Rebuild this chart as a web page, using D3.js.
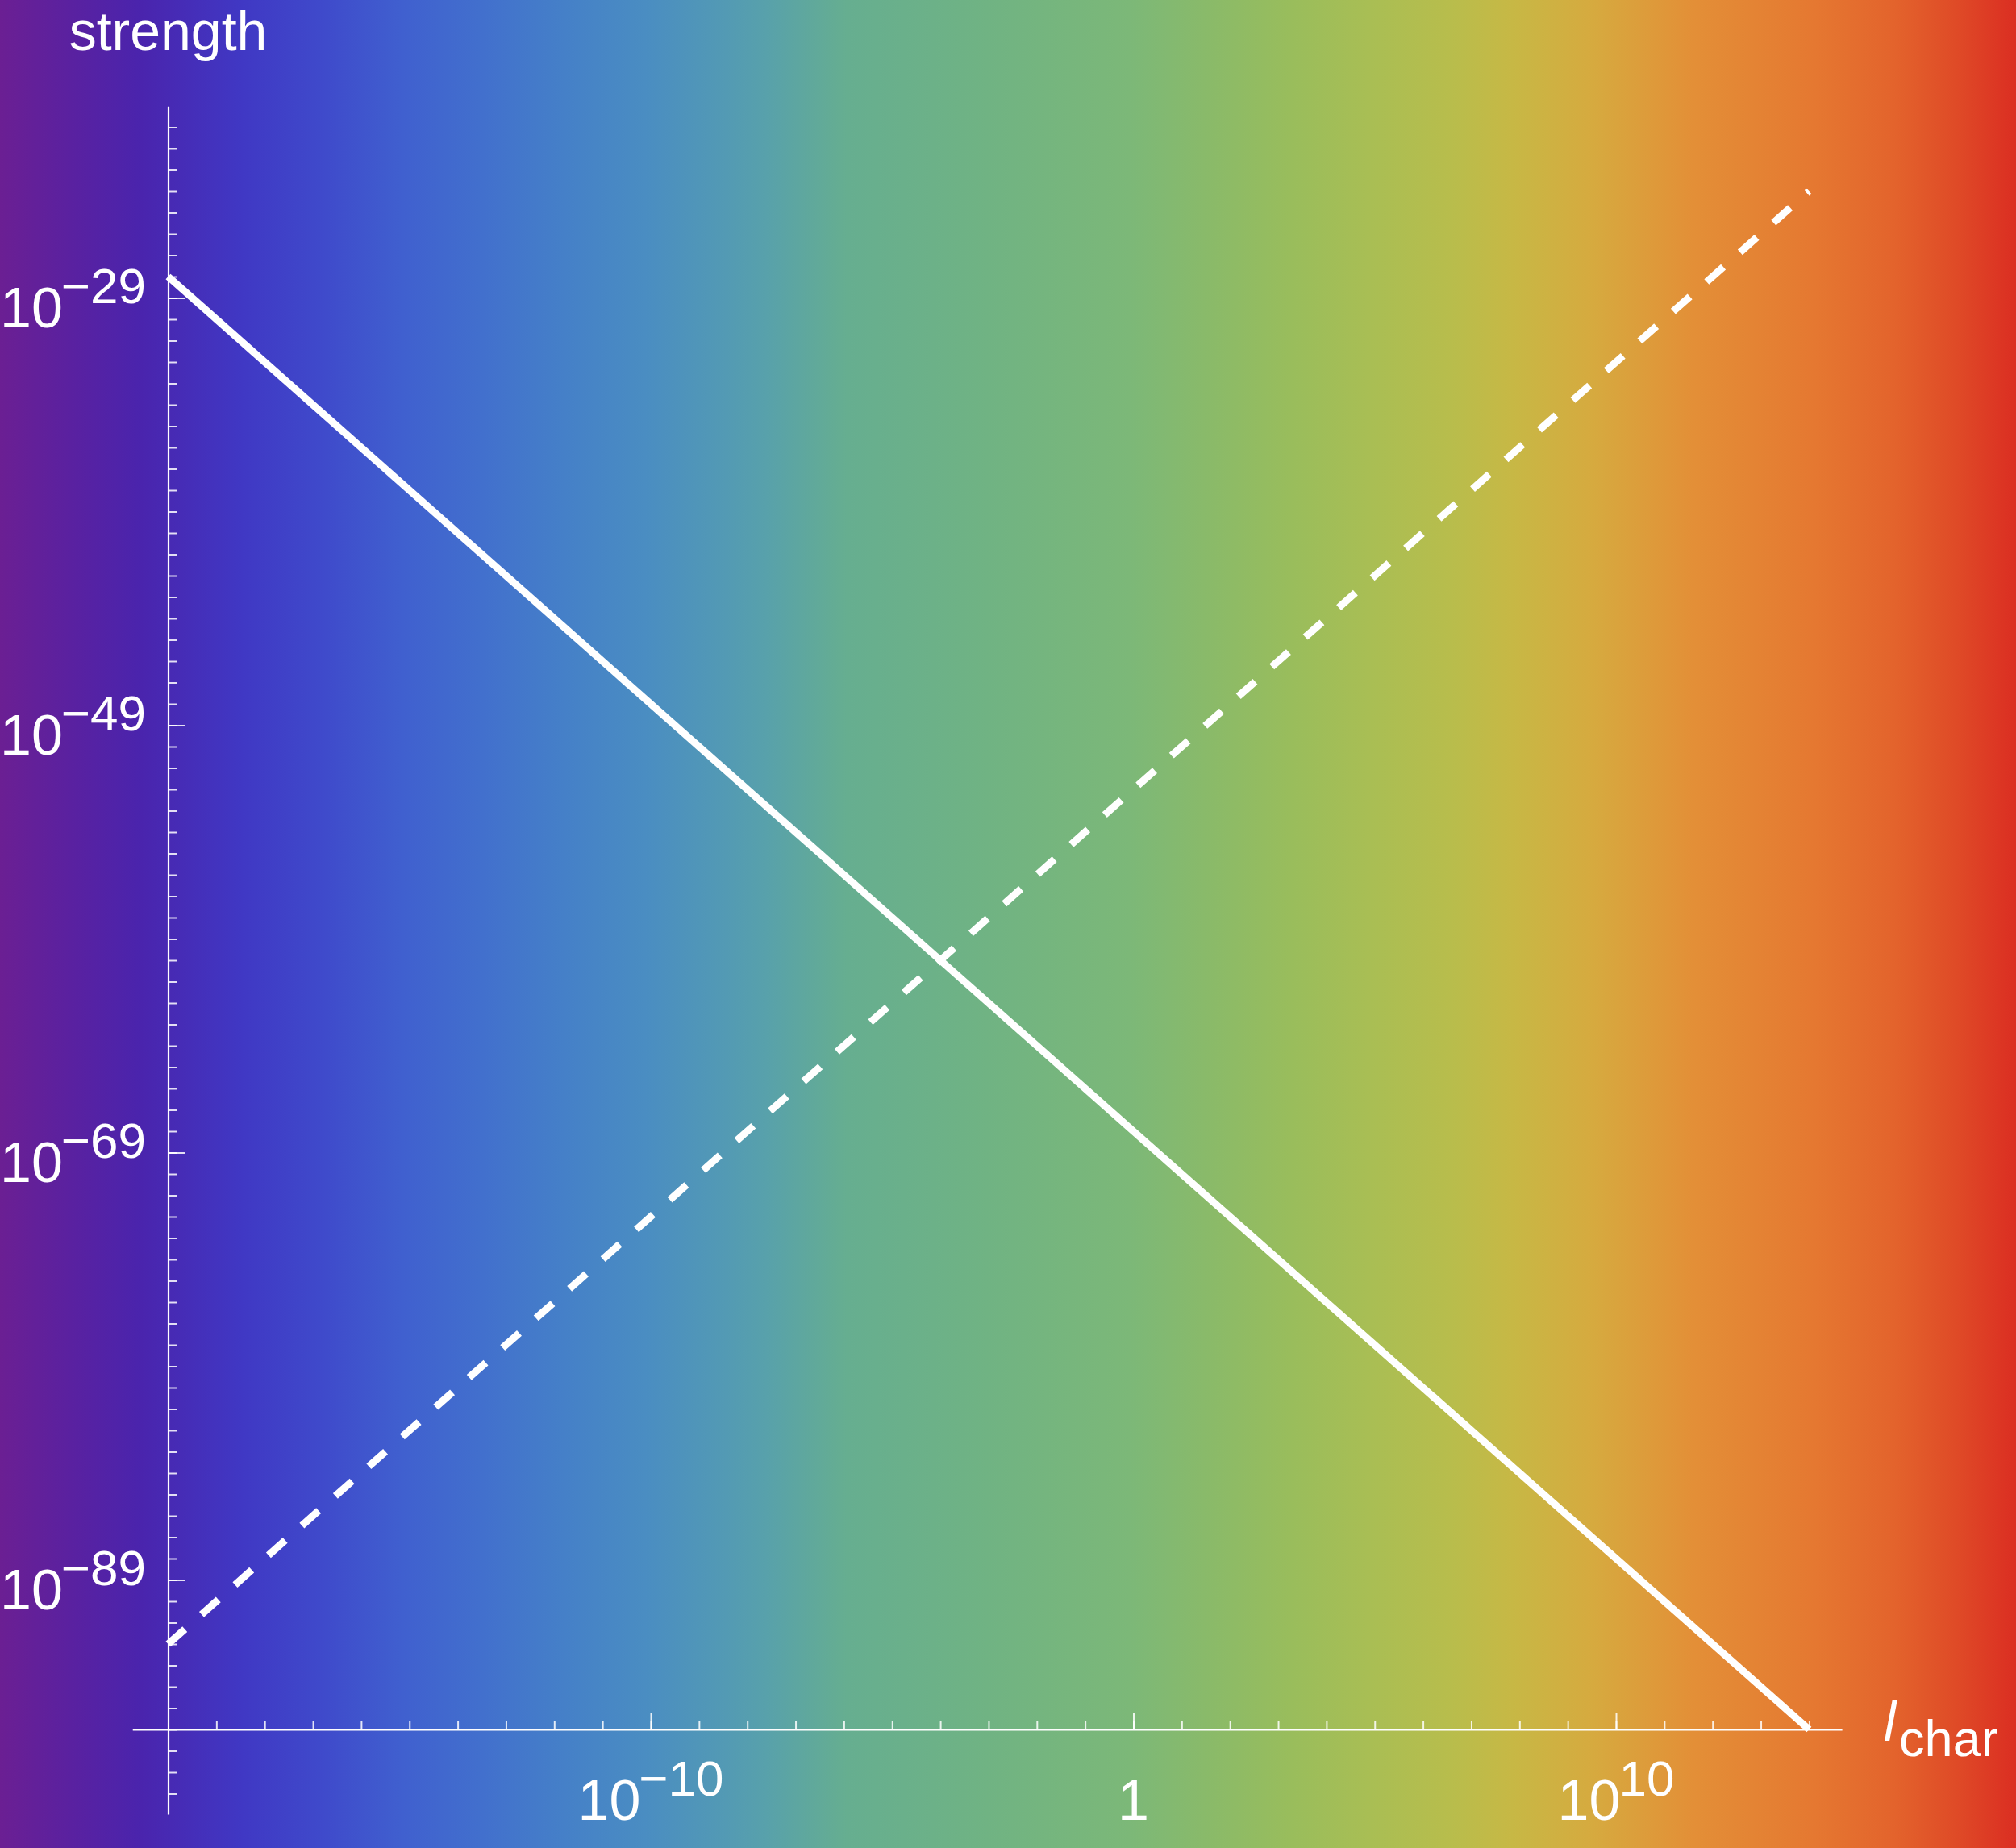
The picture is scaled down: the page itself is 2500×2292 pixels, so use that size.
<!DOCTYPE html>
<html>
<head>
<meta charset="utf-8">
<script src="https://cdn.jsdelivr.net/npm/d3@7"></script>
<style>
  html, body { margin: 0; padding: 0; background: #fff; }
  svg { display: block; }
  text { font-family: "Liberation Sans", Arial, sans-serif; fill: #fff; }
</style>
</head>
<body>
<script>
// ---------- data ----------
const lValues      = [1e-20, 1e-4, 1e14];       // l_char sample points
const solidValues  = [1e-28, 1e-60, 1e-96];     // solid line strength
const dashedValues = [1e-92, 1e-60, 1e-24];     // dashed line strength
const xMajorTicks  = [1e-10, 1, 1e10];
const xMajorLabels = [["10", "\u221210"], ["1", null], ["10", "10"]];
const yMajorTicks  = [1e-29, 1e-49, 1e-69, 1e-89];
const yMajorLabels = [["10", "\u221229"], ["10", "\u221249"], ["10", "\u221269"], ["10", "\u221289"]];
const xMinorExps   = d3.range(-19, 15);          // every decade
const yMinorExps   = d3.range(-99, -20);         // every decade
const rainbowStops = [
  [0.000, "#6b1f93"], [0.035, "#5a21a0"], [0.070, "#4a24ad"], [0.120, "#4038c4"],
  [0.160, "#3f4acb"], [0.200, "#4060cf"], [0.240, "#4270cd"], [0.280, "#4580c8"],
  [0.320, "#4a8dc2"], [0.360, "#539ab4"], [0.380, "#58a1ab"], [0.420, "#66ae90"],
  [0.490, "#70b383"], [0.560, "#7cb878"], [0.600, "#8aba69"], [0.640, "#99bd5c"],
  [0.680, "#a9be54"], [0.720, "#b8bd4c"], [0.750, "#c7b845"], [0.790, "#d6aa3f"],
  [0.840, "#e38f37"], [0.900, "#e57831"], [0.940, "#e3632c"], [0.970, "#df4b27"],
  [1.000, "#db2e22"]
];

// ---------- layout ----------
const W = 2500, H = 2292;
const svg = d3.select("body").append("svg").attr("width", W).attr("height", H);

const defs = svg.append("defs");
const grad = defs.append("linearGradient").attr("id", "bg")
  .attr("gradientUnits", "userSpaceOnUse").attr("x1", 0).attr("x2", W).attr("y1", 0).attr("y2", 0);
grad.selectAll("stop").data(rainbowStops).join("stop")
  .attr("offset", d => d[0]).attr("stop-color", d => d[1]);
svg.append("rect").attr("width", W).attr("height", H).attr("fill", "url(#bg)");

const x = d3.scaleLog().domain([1e-20, 1e14]).range([208.5, 2243.4]);
const y = d3.scaleLog().domain([1e-96, 1e-24]).range([2145, 237]);

const xAxisExtent = [Math.pow(10, -20.74), Math.pow(10, 14.68)];
const yAxisExtent = [Math.pow(10, -99.96), Math.pow(10, -20.05)];
const xAxisScale = d3.scaleLog().domain(xAxisExtent).range(xAxisExtent.map(x));
const yAxisScale = d3.scaleLog().domain(yAxisExtent).range(yAxisExtent.map(y));

const originX = 1e-20, originY = 1e-96;

// ---------- axes ----------
const tickStyle = g => g.selectAll(".tick line").attr("stroke", "#fff").attr("stroke-width", 2).attr("stroke-opacity", 0.85);

// x minor
svg.append("g").attr("transform", `translate(0,${y(originY)})`)
  .call(d3.axisBottom(xAxisScale).tickValues(xMinorExps.map(e => Math.pow(10, e))).tickSize(-10.5).tickSizeOuter(0).tickFormat(""))
  .call(g => g.select(".domain").remove()).call(tickStyle);
// x major
svg.append("g").attr("transform", `translate(0,${y(originY)})`)
  .call(d3.axisBottom(xAxisScale).tickValues(xMajorTicks).tickSize(-21).tickSizeOuter(0).tickFormat(""))
  .call(g => g.select(".domain").attr("stroke", "#fff").attr("stroke-width", 2.2)).call(tickStyle);

// y minor
svg.append("g").attr("transform", `translate(${x(originX)},0)`)
  .call(d3.axisLeft(yAxisScale).tickValues(yMinorExps.map(e => Math.pow(10, e))).tickSize(-10.5).tickSizeOuter(0).tickFormat(""))
  .call(g => g.select(".domain").remove()).call(tickStyle);
// y major
svg.append("g").attr("transform", `translate(${x(originX)},0)`)
  .call(d3.axisLeft(yAxisScale).tickValues(yMajorTicks).tickSize(-21).tickSizeOuter(0).tickFormat(""))
  .call(g => g.select(".domain").attr("stroke", "#fff").attr("stroke-width", 2.2)).call(tickStyle);

// tick labels
function powLabel(sel, lab) {
  sel.append("tspan").text(lab[0]);
  if (lab[1]) sel.append("tspan").attr("dy", -30).attr("dx", -2).attr("font-size", 62).text(lab[1]);
}
xMajorTicks.forEach((v, i) => {
  const t = svg.append("text").attr("x", x(v)).attr("y", y(originY) + 112)
    .attr("text-anchor", "middle").attr("font-size", 70);
  powLabel(t, xMajorLabels[i]);
});
yMajorTicks.forEach((v, i) => {
  const t = svg.append("text").attr("x", x(originX) - 27.5).attr("y", y(v) + 36)
    .attr("text-anchor", "end").attr("font-size", 70);
  powLabel(t, yMajorLabels[i]);
});

// axis titles
svg.append("text").attr("x", x(originX)).attr("y", 62).attr("text-anchor", "middle")
  .attr("font-size", 68).text("strength");
const xl = svg.append("text").attr("x", 2336).attr("y", 2159).attr("font-size", 68);
xl.append("tspan").attr("font-style", "italic").text("l");
xl.append("tspan").attr("dy", 19).attr("dx", 4).attr("font-size", 63).text("char");

// ---------- lines ----------
const line = d3.line().x(d => x(d[0])).y(d => y(d[1]));
svg.append("path").datum(lValues.map((l, i) => [l, solidValues[i]]))
  .attr("d", line).attr("fill", "none").attr("stroke", "#fff").attr("stroke-width", 9);
svg.append("path").datum(lValues.map((l, i) => [l, dashedValues[i]]))
  .attr("d", line).attr("fill", "none").attr("stroke", "#fff").attr("stroke-width", 9)
  .attr("stroke-dasharray", "27.7,27.7");
</script>
</body>
</html>
